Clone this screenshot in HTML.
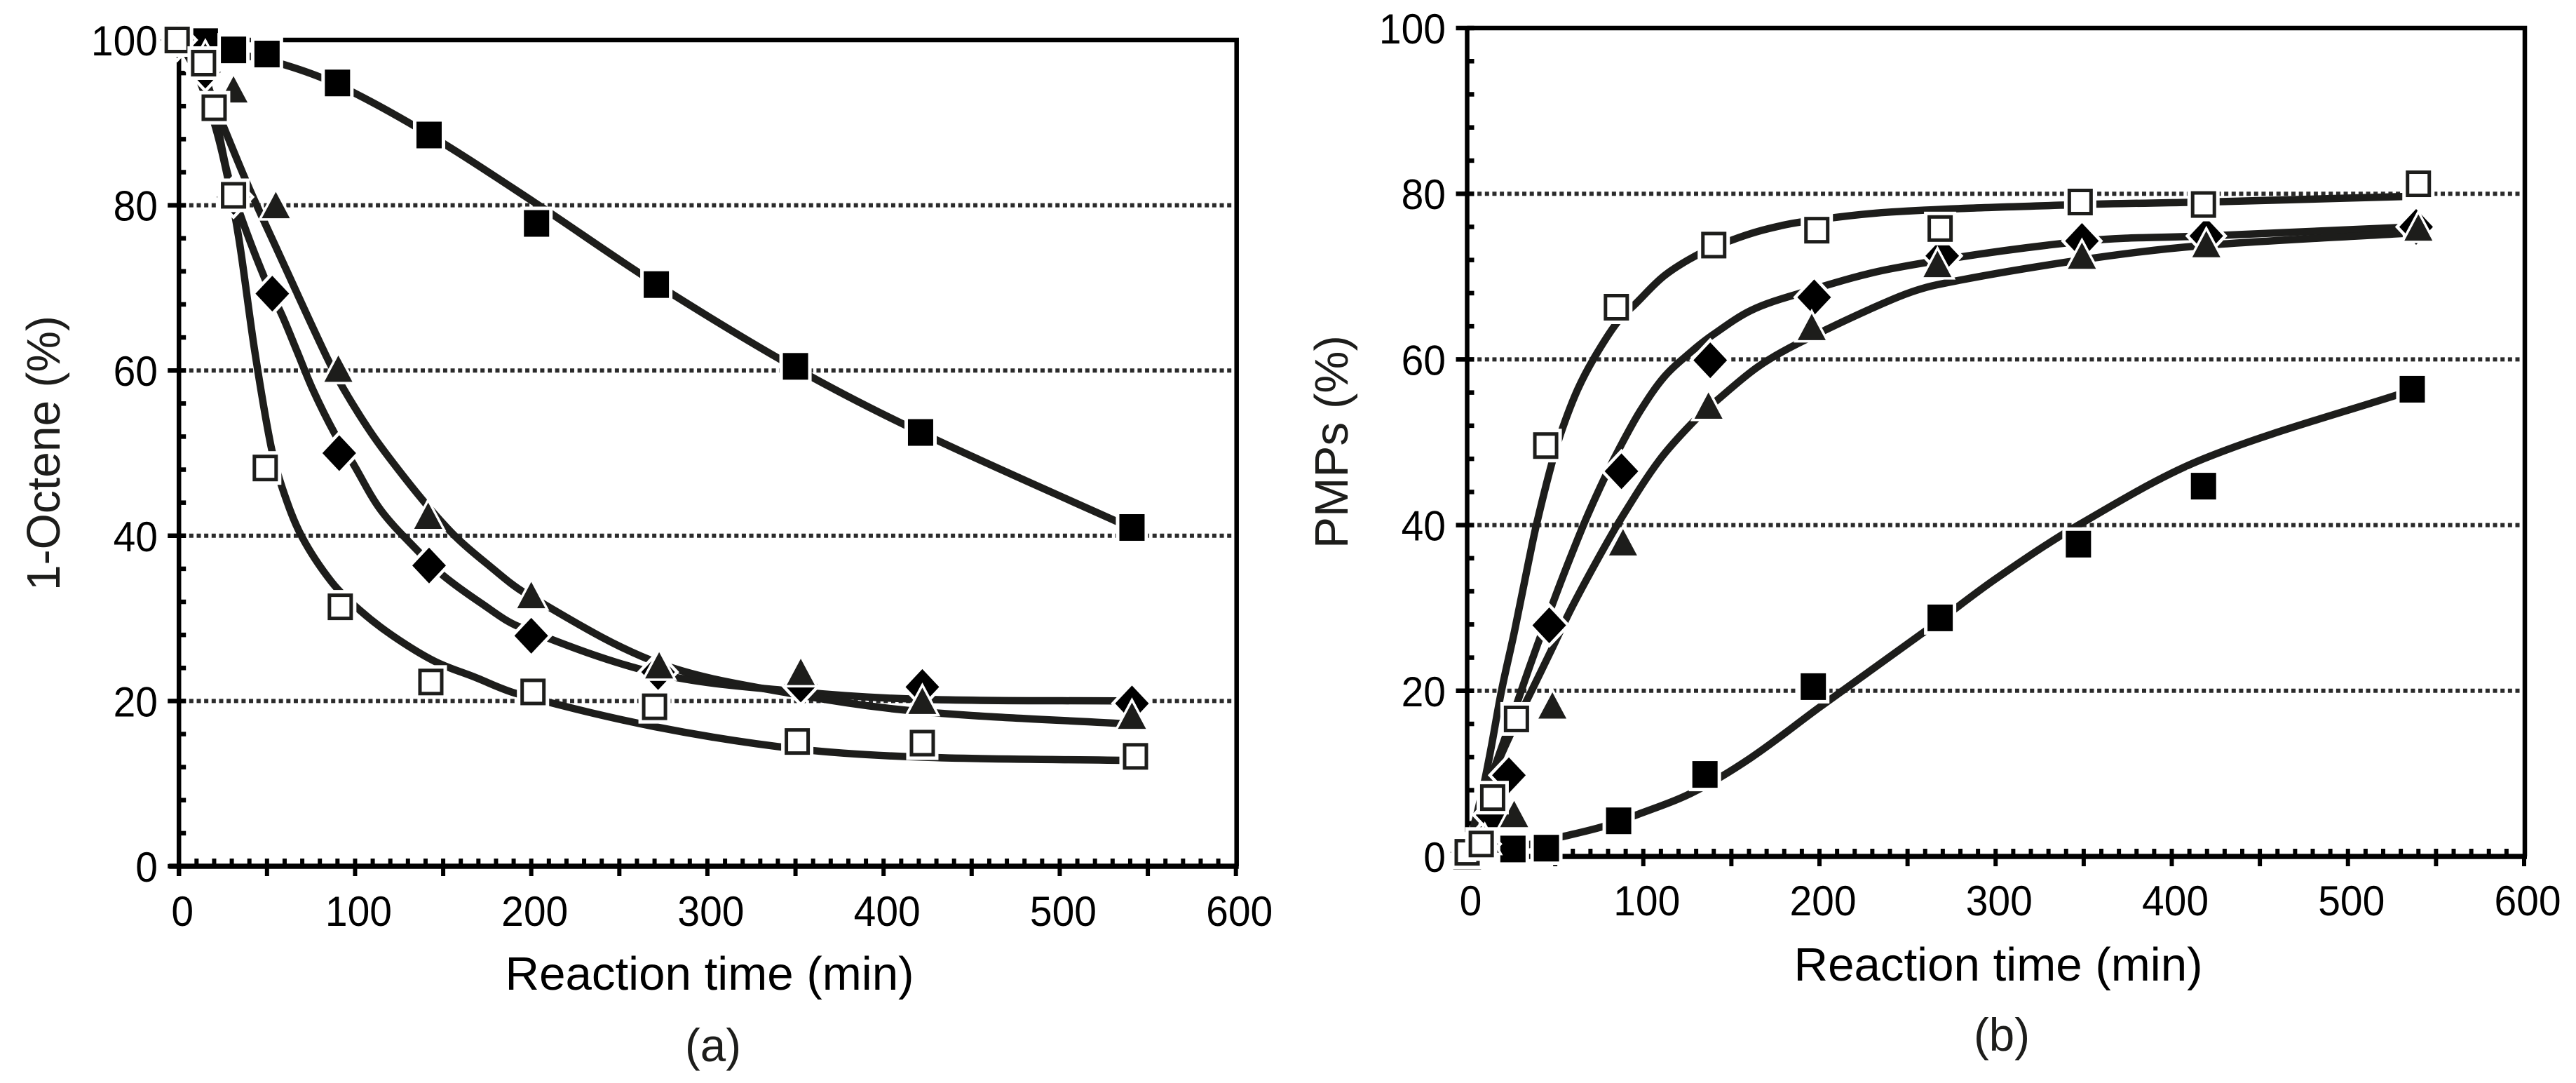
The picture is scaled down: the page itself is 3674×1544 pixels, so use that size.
<!DOCTYPE html>
<html lang="en">
<head>
<meta charset="utf-8">
<title>1-Octene and PMPs versus reaction time</title>
<style>
html,body{margin:0;padding:0;background:#fff;}
svg{display:block;}
text{font-family:"Liberation Sans",Arial,sans-serif;fill:#000;}
</style>
</head>
<body>
<svg id="figure" xmlns="http://www.w3.org/2000/svg" width="3674" height="1544" viewBox="0 0 3674 1544">
  <rect width="3674" height="1544" fill="#fff"/>
  <g id="panel-a"></g>
  <g id="panel-b"></g>
  <text x="1012" y="1411" font-size="67" text-anchor="middle" textLength="583" lengthAdjust="spacingAndGlyphs">Reaction time (min)</text>
  <text x="2850" y="1398" font-size="67" text-anchor="middle" textLength="583" lengthAdjust="spacingAndGlyphs">Reaction time (min)</text>
  <text transform="translate(85,646) rotate(-90)" font-size="67" text-anchor="middle" textLength="392" lengthAdjust="spacingAndGlyphs" style="fill:#1d1d1b">1-Octene (%)</text>
  <text transform="translate(1922,630) rotate(-90)" font-size="67" text-anchor="middle" textLength="304" lengthAdjust="spacingAndGlyphs" style="fill:#1d1d1b">PMPs (%)</text>
  <text x="1017" y="1513" font-size="66" text-anchor="middle" textLength="80" lengthAdjust="spacingAndGlyphs" style="fill:#1d1d1b">(a)</text>
  <text x="2855" y="1498" font-size="66" text-anchor="middle" textLength="80" lengthAdjust="spacingAndGlyphs" style="fill:#1d1d1b">(b)</text>
</svg>
<script>
// Axis labels
var xTickLabels = [0, 100, 200, 300, 400, 500, 600];
var yTickLabels = [0, 20, 40, 60, 80, 100];
var gridLevels = [20, 40, 60, 80];

// Panel (a): measured points
var aFilledSquareT = [15, 31, 50, 90, 142, 203, 271, 350, 421, 541];
var aFilledSquareV = [99.8, 98.8, 98.3, 94.8, 88.5, 77.8, 70.4, 60.5, 52.5, 41];
var aDiamondT = [-1, 15, 31, 53, 91, 142, 200, 272, 353, 422, 541];
var aDiamondV = [100, 96.3, 81, 69.3, 50, 36.4, 27.9, 23.5, 22, 21.7, 19.7];
var aTriangleT = [-1, 15, 31, 55, 90.5, 141.5, 200, 272.6, 353, 422, 541];
var aTriangleV = [100, 98, 94, 80, 60.2, 42.4, 32.8, 24.3, 23.5, 20, 18.2];
var aOpenSquareT = [-1, 14, 20, 31, 49, 91.6, 143, 201, 270, 351, 422, 543];
var aOpenSquareV = [100, 97.2, 91.8, 81.2, 48.2, 31.4, 22.3, 21.1, 19.3, 15.1, 14.9, 13.3];

// Panel (a): fitted curves
var aFilledCurveT = [0, 30, 60, 90, 140, 200, 270, 350, 420, 540];
var aFilledCurveV = [100, 98.5, 97, 94.6, 88.8, 80.6, 70.6, 60.3, 52.6, 41];
var aDiamondCurveT = [0, 15, 27.4, 35.6, 49, 58.5, 66.9, 76.2, 88.1, 98.7, 114.6, 135.9, 149.9, 171.8, 193, 272, 353, 422, 541];
var aDiamondCurveV = [100, 95.5, 84, 78.4, 71, 66.7, 62.4, 57.6, 52.5, 48.8, 43.1, 38.1, 35.2, 31.8, 29, 23.3, 21.1, 20.2, 20];
var aTriangleCurveT = [0, 15, 25, 40, 56, 83.5, 93.4, 108, 121.3, 140, 157, 174.3, 197, 272, 353, 422, 541];
var aTriangleCurveV = [100, 95, 89.7, 82, 74.5, 61.8, 57.8, 52.8, 48.9, 43.9, 39.9, 36.7, 33, 24.6, 20.7, 18.7, 17.2];
var aOpenCurveT = [0, 10, 20, 27, 34, 43, 52.3, 58.8, 69.5, 86.7, 102.6, 121.3, 145.2, 167.8, 191.7, 270, 351, 422, 543];
var aOpenCurveV = [100, 96, 90, 84, 76, 62.4, 50.8, 45.7, 40, 34.4, 31, 27.9, 24.8, 22.9, 20.9, 16.9, 14.2, 13.2, 12.8];

// Panel (b): measured points
var bFilledSquareT = [26, 45, 86, 135, 196.5, 268.5, 347, 418, 536.5];
var bFilledSquareV = [0.9, 1, 4.3, 9.9, 20.5, 28.8, 37.7, 44.7, 56.4];
var bDiamondT = [0, 8, 14.5, 23.7, 46.6, 87.6, 138, 197, 269.7, 349, 419.6, 538.7];
var bDiamondV = [0.5, 1.5, 5, 9.8, 27.9, 46.5, 59.9, 67.5, 72.5, 74.3, 74.9, 76];
var bTriangleT = [0, 10, 26.7, 48.4, 88.5, 137, 195.6, 267, 349, 419.6, 540];
var bTriangleV = [0, 2, 5.1, 18.2, 37.9, 54.4, 63.9, 71.5, 72.5, 73.9, 75.9];
var bOpenSquareT = [0, 8, 14.5, 28, 44.6, 84.7, 140, 198.5, 268.5, 348, 418, 540];
var bOpenSquareV = [0.5, 1.5, 7.1, 16.6, 49.6, 66.3, 73.8, 75.6, 75.8, 79, 78.7, 81.2];

// Panel (b): fitted curves
var bFilledCurveT = [0, 26, 54.4, 77, 96, 127.8, 161, 200, 262, 300, 347, 418, 536.5];
var bFilledCurveV = [0, 1, 2.4, 3.6, 5, 7.7, 11.9, 18, 27.5, 33.5, 40, 48, 56.3];
var bDiamondCurveT = [0, 5, 16, 25.6, 32, 40, 50.8, 58.8, 68, 78.7, 88, 98.6, 111.9, 126.5, 139.7, 161, 186, 242, 351, 420, 537];
var bDiamondCurveV = [0, 4.6, 11, 16.8, 20.8, 25.6, 31.8, 36.2, 41, 46, 49.9, 53.9, 57.9, 60.8, 63, 65.9, 67.8, 71, 74.3, 74.9, 76];
var bTriangleCurveT = [0, 5, 16, 25.6, 37.5, 48, 58.8, 73.4, 88, 109, 129, 143.7, 165, 187.6, 242, 266.5, 348, 415, 531];
var bTriangleCurveV = [0, 4.6, 10.6, 15.2, 20.4, 25, 29.8, 35.6, 41, 47.8, 52.6, 55.4, 59.1, 61.9, 67.3, 69, 72, 73.7, 75.2];
var bOpenCurveT = [0, 5, 9.6, 13.6, 19.6, 26.9, 34.9, 39.5, 48, 54, 62.8, 72.7, 85.3, 96, 111.9, 130.5, 149, 167.6, 190, 241, 350, 419, 537];
var bOpenCurveV = [0, 4.6, 8.8, 13.1, 20.1, 27.2, 35.6, 40.2, 47.4, 51.6, 56.4, 60.4, 64.5, 66.8, 70.1, 72.6, 74.3, 75.6, 76.6, 77.8, 78.7, 79, 79.7];

var SVGNS = 'http://www.w3.org/2000/svg';
var LINE_COLOR = '#1d1d1b';

function node(parent, tag) {
  var el = document.createElementNS(SVGNS, tag);
  parent.appendChild(el);
  return el;
}

function dist(a, b) {
  return Math.sqrt((a[0] - b[0]) * (a[0] - b[0]) + (a[1] - b[1]) * (a[1] - b[1])) || 1;
}

function tangent(points, i) {
  var prev = points[Math.max(i - 1, 0)];
  var next = points[Math.min(i + 1, points.length - 1)];
  var span = dist(prev, points[i]) + dist(points[i], next);
  return [(next[0] - prev[0]) / span, (next[1] - prev[1]) / span];
}

function smoothPath(points) {
  var d = 'M' + points[0][0] + ' ' + points[0][1];
  for (var i = 0; i < points.length - 1; i++) {
    var p1 = points[i];
    var p2 = points[i + 1];
    var h = dist(p1, p2) / 3;
    var m1 = tangent(points, i);
    var m2 = tangent(points, i + 1);
    d += 'C' + (p1[0] + m1[0] * h) + ' ' + (p1[1] + m1[1] * h) + ' ' +
         (p2[0] - m2[0] * h) + ' ' + (p2[1] - m2[1] * h) + ' ' + p2[0] + ' ' + p2[1];
  }
  return d;
}

function drawMarker(parent, kind, cx, cy) {
  var halo, mark;
  if (kind === 'diamond') {
    var dPts = (cx - 24) + ',' + cy + ' ' + cx + ',' + (cy - 25.5) + ' ' + (cx + 24) + ',' + cy + ' ' + cx + ',' + (cy + 25.5);
    mark = node(parent, 'polygon');
    mark.setAttribute('points', dPts);
    mark.setAttribute('fill', '#000');
    mark.setAttribute('stroke', '#fff');
    mark.setAttribute('stroke-width', '9');
    mark.setAttribute('paint-order', 'stroke');
    
    
  } else if (kind === 'triangle') {
    var tPts = cx + ',' + (cy - 19) + ' ' + (cx + 20) + ',' + (cy + 18.5) + ' ' + (cx - 20) + ',' + (cy + 18.5);
    mark = node(parent, 'polygon');
    mark.setAttribute('points', tPts);
    mark.setAttribute('fill', LINE_COLOR);
    mark.setAttribute('stroke', '#fff');
    mark.setAttribute('stroke-width', '7');
    mark.setAttribute('paint-order', 'stroke');
    
    
  } else if (kind === 'filled') {
    mark = node(parent, 'rect');
    mark.setAttribute('x', cx - 18);
    mark.setAttribute('y', cy - 19);
    mark.setAttribute('width', 36);
    mark.setAttribute('height', 38);
    mark.setAttribute('fill', '#000');
    mark.setAttribute('stroke', '#fff');
    mark.setAttribute('stroke-width', '10');
    mark.setAttribute('paint-order', 'stroke');
    
    
  } else {
    halo = node(parent, 'rect');
    halo.setAttribute('x', cx - 23);
    halo.setAttribute('y', cy - 24);
    halo.setAttribute('width', 46);
    halo.setAttribute('height', 48);
    halo.setAttribute('fill', '#fff');
    
    
    mark = node(parent, 'rect');
    mark.setAttribute('x', cx - 15.5);
    mark.setAttribute('y', cy - 16.5);
    mark.setAttribute('width', 31);
    mark.setAttribute('height', 33);
    mark.setAttribute('fill', '#fff');
    mark.setAttribute('stroke', LINE_COLOR);
    mark.setAttribute('stroke-width', '5');
    
    
  }
}

function drawPanel(cfg) {
  var root = document.getElementById(cfg.id);
  function xAxis(t) { return cfg.x0 + t * cfg.xScale; }
  function yAxis(v) { return cfg.y0 - v * cfg.yScale; }
  var xMax = xAxis(600) + 1;
  var yTop = yAxis(100);
  var i, line, label;

  // gridlines
  gridLevels.forEach(function (level) {
    var grid = node(root, 'line');
    grid.setAttribute('x1', cfg.x0 + 4);
    grid.setAttribute('x2', xMax);
    grid.setAttribute('y1', yAxis(level));
    grid.setAttribute('y2', yAxis(level));
    grid.setAttribute('stroke', '#2b2b2b');
    grid.setAttribute('stroke-width', '6');
    grid.setAttribute('stroke-dasharray', '6 4.65');
    
    
  });

  // frame
  var frame = node(root, 'path');
  frame.setAttribute('d', 'M' + cfg.x0 + ' ' + yTop + 'H' + xMax + 'V' + cfg.y0);
  frame.setAttribute('fill', 'none');
  frame.setAttribute('stroke', '#000');
  frame.setAttribute('stroke-width', '6.5');
  
  

  var yLine = node(root, 'line');
  yLine.setAttribute('x1', cfg.x0);
  yLine.setAttribute('x2', cfg.x0);
  yLine.setAttribute('y1', yTop);
  yLine.setAttribute('y2', cfg.y0 + 14);
  yLine.setAttribute('stroke', '#000');
  yLine.setAttribute('stroke-width', '6.5');
  
  

  var xLine = node(root, 'line');
  xLine.setAttribute('x1', cfg.x0 - 14);
  xLine.setAttribute('x2', xMax + 3);
  xLine.setAttribute('y1', cfg.y0);
  xLine.setAttribute('y2', cfg.y0);
  xLine.setAttribute('stroke', '#000');
  xLine.setAttribute('stroke-width', '7.5');
  
  

  // x ticks every 10 (up), every 50 (down)
  for (i = 10; i <= 600; i += 10) {
    line = node(root, 'line');
    line.setAttribute('x1', xAxis(i));
    line.setAttribute('x2', xAxis(i));
    line.setAttribute('y1', i === 600 ? cfg.y0 : cfg.y0 - 11);
    line.setAttribute('y2', i % 50 === 0 ? cfg.y0 + 14 : cfg.y0);
    line.setAttribute('stroke', '#000');
    line.setAttribute('stroke-width', '6');
    
    
  }

  // y ticks
  for (i = 4; i < 100; i += 4) {
    if (i % 20 === 0) continue;
    line = node(root, 'line');
    line.setAttribute('x1', cfg.x0);
    line.setAttribute('x2', cfg.x0 + 10);
    line.setAttribute('y1', yAxis(i));
    line.setAttribute('y2', yAxis(i));
    line.setAttribute('stroke', '#000');
    line.setAttribute('stroke-width', '6.5');
    
    
  }
  yTickLabels.forEach(function (v) {
    var tick = node(root, 'line');
    tick.setAttribute('x1', cfg.x0 - 16);
    tick.setAttribute('x2', cfg.x0 + 10);
    tick.setAttribute('y1', yAxis(v));
    tick.setAttribute('y2', yAxis(v));
    tick.setAttribute('stroke', '#000');
    tick.setAttribute('stroke-width', '6.5');
    
    
  });

  // tick labels
  xTickLabels.forEach(function (v) {
    label = node(root, 'text');
    label.setAttribute('transform', 'translate(' + (xAxis(v) + 5) + ',' + cfg.xLabelY + ') scale(.95,1)');
    label.setAttribute('font-size', '60');
    label.setAttribute('text-anchor', 'middle');
    
    
    label.textContent = v;
  });
  yTickLabels.forEach(function (v) {
    label = node(root, 'text');
    label.setAttribute('transform', 'translate(' + cfg.yLabelX + ',' + (yAxis(v) + 22) + ') scale(.95,1)');
    label.setAttribute('font-size', '60');
    label.setAttribute('text-anchor', 'end');
    
    
    label.textContent = v;
  });

  // curves
  cfg.curves.forEach(function (c) {
    var pts = c.t.map(function (t, k) { return [xAxis(t), yAxis(c.v[k])]; });
    var path = node(root, 'path');
    path.setAttribute('d', smoothPath(pts));
    path.setAttribute('fill', 'none');
    path.setAttribute('stroke', LINE_COLOR);
    path.setAttribute('stroke-width', '10.5');
    
    
  });

  // markers
  cfg.series.forEach(function (s) {
    var g = node(root, 'g');
    
    
    s.t.forEach(function (t, k) {
      drawMarker(g, s.kind, xAxis(t), yAxis(s.v[k]));
    });
  });
}

drawPanel({
  id: 'panel-a', x0: 255.2, xScale: 2.5125, y0: 1235, yScale: 11.78, xLabelY: 1320, yLabelX: 225,
  curves: [
    {name: 'filled-square-curve', t: aFilledCurveT, v: aFilledCurveV},
    {name: 'diamond-curve', t: aDiamondCurveT, v: aDiamondCurveV},
    {name: 'triangle-curve', t: aTriangleCurveT, v: aTriangleCurveV},
    {name: 'open-square-curve', t: aOpenCurveT, v: aOpenCurveV}
  ],
  series: [
    {name: 'filled-square-series', kind: 'filled', t: aFilledSquareT, v: aFilledSquareV},
    {name: 'diamond-series', kind: 'diamond', t: aDiamondT, v: aDiamondV},
    {name: 'triangle-series', kind: 'triangle', t: aTriangleT, v: aTriangleV},
    {name: 'open-square-series', kind: 'open', t: aOpenSquareT, v: aOpenSquareV}
  ]
});

drawPanel({
  id: 'panel-b', x0: 2092.5, xScale: 2.5125, y0: 1221, yScale: 11.81, xLabelY: 1305, yLabelX: 2062,
  curves: [
    {name: 'filled-square-curve', t: bFilledCurveT, v: bFilledCurveV},
    {name: 'diamond-curve', t: bDiamondCurveT, v: bDiamondCurveV},
    {name: 'triangle-curve', t: bTriangleCurveT, v: bTriangleCurveV},
    {name: 'open-square-curve', t: bOpenCurveT, v: bOpenCurveV}
  ],
  series: [
    {name: 'filled-square-series', kind: 'filled', t: bFilledSquareT, v: bFilledSquareV},
    {name: 'diamond-series', kind: 'diamond', t: bDiamondT, v: bDiamondV},
    {name: 'triangle-series', kind: 'triangle', t: bTriangleT, v: bTriangleV},
    {name: 'open-square-series', kind: 'open', t: bOpenSquareT, v: bOpenSquareV}
  ]
});
</script>
</body>
</html>
